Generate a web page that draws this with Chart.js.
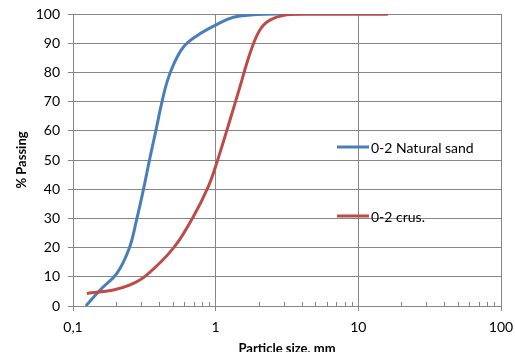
<!DOCTYPE html>
<html><head><meta charset="utf-8">
<script src="https://cdn.jsdelivr.net/npm/chart.js@4.4.0/dist/chart.umd.min.js"></script>
<style>
html,body{margin:0;padding:0;background:#fff;overflow:hidden;width:515px;height:352px}
#wrap{width:515px;height:360px;position:relative}
</style>
</head><body><div id="wrap"><canvas id="c" width="515" height="360"></canvas></div>
<script>
// ---- data ----
const seriesNames = ['0-2 Natural sand', '0-2 crus.'];
const naturalSize = [0.123, 0.155, 0.203, 0.248, 0.279, 0.311, 0.347, 0.382, 0.418, 0.458, 0.505, 0.593, 0.736, 1.0, 1.33, 1.83, 2.8, 5, 16];
const naturalPass = [0, 5.5, 11.2, 19.8, 29.5, 39.7, 51, 60.3, 69.4, 77.0, 82.5, 88.6, 92.5, 96.2, 98.9, 99.7, 100, 100, 100];
const crushedSize = [0.125, 0.192, 0.251, 0.328, 0.505, 0.697, 0.888, 1.016, 1.26, 1.48, 1.74, 2.04, 2.4, 3.14, 4.6, 16.2];
const crushedPass = [4.3, 5.5, 7.2, 10.6, 19.8, 30.6, 40.9, 48.9, 63.7, 75.1, 86.5, 94.5, 97.9, 99.7, 100, 100];
const xTickValues = [0.1, 1, 10, 100];
const xTickLabels = ['0,1', '1', '10', '100'];
const yMin = 0, yMax = 100, yStep = 10;
const xTitle = 'Particle size, mm';
const yTitle = '% Passing';

// ---- styling ----
const gridColor = '#868686';
const colors = ['#4A7EBB', '#BE4B48'];
const fontFamily = 'Lato, "Open Sans", sans-serif';
const legendPos = [{x: 337, y: 147}, {x: 337, y: 216}];

const minorTicks = {
  id: 'minorTicks',
  beforeDatasetsDraw(chart) {
    const xs = chart.scales.x, ctx = chart.ctx, bottom = chart.chartArea.bottom;
    ctx.save();
    ctx.strokeStyle = gridColor; ctx.lineWidth = 1;
    for (let d = xs.min; d < xs.max * 0.999; d *= 10) {
      for (let m = 2; m <= 9; m++) {
        const px = Math.round(xs.getPixelForValue(d * m)) + 0.5;
        ctx.beginPath(); ctx.moveTo(px, bottom); ctx.lineTo(px, bottom - 4); ctx.stroke();
      }
    }
    ctx.restore();
  }
};

const customLegend = {
  id: 'customLegend',
  afterDatasetsDraw(chart) {
    const ctx = chart.ctx;
    ctx.save();
    chart.data.datasets.forEach((ds, i) => {
      const p = legendPos[i];
      ctx.strokeStyle = ds.borderColor; ctx.lineWidth = 3; ctx.lineCap = 'butt';
      ctx.beginPath(); ctx.moveTo(p.x, p.y); ctx.lineTo(p.x + 32, p.y); ctx.stroke();
      ctx.fillStyle = '#000';
      ctx.font = '14px ' + fontFamily;
      ctx.textBaseline = 'middle'; ctx.textAlign = 'left';
      ctx.fillText(ds.label, p.x + 34, p.y + 1);
    });
    ctx.restore();
  }
};

const mk = (xs, ys) => xs.map((x, i) => ({x: x, y: ys[i]}));
const zeroPad = s => { s.paddingLeft = 0; s.paddingRight = 0; s.paddingTop = 0; s.paddingBottom = 0; };

new Chart(document.getElementById('c'), {
  type: 'scatter',
  data: {
    datasets: [
      {label: seriesNames[0], data: mk(naturalSize, naturalPass), borderColor: colors[0], backgroundColor: colors[0],
       showLine: true, borderWidth: 3, pointRadius: 0, tension: 0.4, order: 1},
      {label: seriesNames[1], data: mk(crushedSize, crushedPass), borderColor: colors[1], backgroundColor: colors[1],
       showLine: true, borderWidth: 3, pointRadius: 0, tension: 0.4, order: 0}
    ]
  },
  options: {
    responsive: false,
    animation: false,
    devicePixelRatio: 1,
    layout: {padding: {left: 0, right: 14, top: 14, bottom: 0}},
    plugins: {legend: {display: false}, tooltip: {enabled: false}},
    scales: {
      x: {
        type: 'logarithmic', min: 0.1, max: 100,
        afterBuildTicks: s => { s.ticks = xTickValues.map(v => ({value: v})); },
        afterFit: s => { s.height = 54; zeroPad(s); },
        ticks: {
          autoSkip: false, maxRotation: 0, padding: 8, color: '#000',
          font: {family: fontFamily, size: 14},
          callback: v => xTickLabels[xTickValues.indexOf(v)]
        },
        grid: {color: gridColor, tickColor: gridColor, tickLength: 5, lineWidth: 1},
        border: {color: gridColor},
        title: {display: true, text: xTitle, color: '#000', font: {family: fontFamily, size: 13, weight: 'bold'}, padding: {top: 0, bottom: 3}}
      },
      y: {
        min: yMin, max: yMax,
        afterFit: s => { s.width = 73; zeroPad(s); },
        ticks: {stepSize: yStep, padding: 8, color: '#000', font: {family: fontFamily, size: 14}},
        grid: {color: gridColor, tickColor: gridColor, tickLength: 5, lineWidth: 1},
        border: {color: gridColor},
        title: {display: true, text: yTitle, color: '#000', font: {family: fontFamily, size: 13, weight: 'bold'}, padding: {top: 14, bottom: 0}}
      }
    }
  },
  plugins: [minorTicks, customLegend]
});
</script>
</body></html>
